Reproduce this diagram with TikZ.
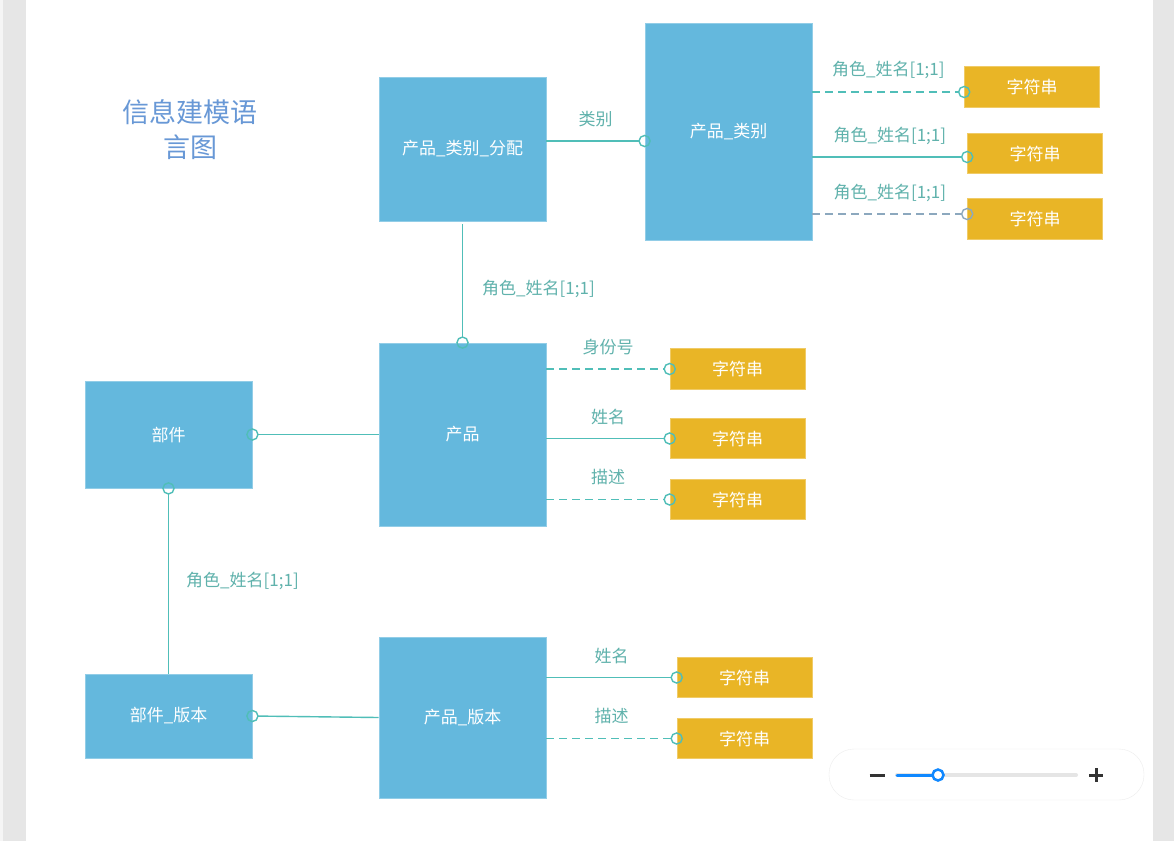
\documentclass[tikz,border=0pt]{standalone}
\usepackage{fontspec}
\setmainfont{Noto Sans CJK SC}
\usepackage{tikz}
\usetikzlibrary{arrows.meta, positioning}

\definecolor{entityblue}{RGB}{100,184,221}
\definecolor{attryellow}{RGB}{233,181,38}
\definecolor{linkteal}{RGB}{80,190,184}
\definecolor{labelteal}{RGB}{96,178,172}
\definecolor{linkgrey}{RGB}{140,168,190}
\definecolor{titleblue}{RGB}{104,152,214}
\definecolor{pagegrey}{RGB}{230,230,230}
\definecolor{sliderblue}{RGB}{16,136,255}

\begin{document}
\begin{tikzpicture}[
    x=1pt, y=-1pt,
    entity/.style={rectangle, fill=entityblue, draw=entityblue!70!white, line width=0.8pt, minimum width=167pt, inner sep=0pt, text=white, font=\fontsize{17}{20}\selectfont},
    attr/.style={rectangle, fill=attryellow, draw=attryellow!70!white, line width=0.6pt, minimum width=135pt, minimum height=40.5pt, inner sep=0pt, text=white, font=\fontsize{17}{20}\selectfont},
    link/.style={draw=linkteal, line width=1.4pt, -{Circle[open, length=12.5pt, width=12.5pt]}, shorten >=-6.25pt},
    dashlink/.style={dash pattern=on 8pt off 5pt},
    lbl/.style={text=labelteal, inner sep=0pt, font=\fontsize{17}{20}\selectfont},
    heading/.style={text=titleblue, align=center, inner sep=0pt, font=\fontsize{27}{35}\selectfont}
]
    % Page
    \fill[white] (0,0) rectangle (1174,841);
    \fill[pagegrey] (0,0) rectangle (26,841);
    \fill[black!4] (0,0) rectangle (3,841);
    \fill[pagegrey] (1153,0) rectangle (1174,841);
    \useasboundingbox (0,0) rectangle (1174,841);

    % Title
    \node[heading] (title) at (190,129.5) {信息建模语\\言图};

    % Entities
    \node[entity, minimum height=144pt] (pcassign) at (462.5,149) {产品\_类别\_分配};
    \node[entity, minimum height=217pt] (pcat) at (728.5,131.5) {产品\_类别};
    \node[entity, minimum height=183pt] (product) at (462.5,434.5) {产品};
    \node[entity, minimum height=107pt] (part) at (168.5,434.5) {部件};
    \node[entity, minimum height=84pt] (partver) at (168.5,716) {部件\_版本};
    \node[entity, minimum height=161pt] (prodver) at (462.5,717.5) {产品\_版本};

    % Value types
    \node[attr] (s1) at (1032,87) {字符串};
    \node[attr] (s2) at (1035,153.5) {字符串};
    \node[attr] (s3) at (1035,219) {字符串};
    \node[attr] (a1) at (737.5,369) {字符串};
    \node[attr] (a2) at (737.5,438.5) {字符串};
    \node[attr] (a3) at (737.5,499.5) {字符串};
    \node[attr] (v1) at (744.5,677.5) {字符串};
    \node[attr] (v2) at (744.5,738.5) {字符串};

    % Connector ends
    \coordinate (catin) at ([yshift=-9.5pt]pcat.west);
    \coordinate (s1in) at ([yshift=-5pt]s1.west);
    \coordinate (s2in) at ([yshift=-3.5pt]s2.west);
    \coordinate (s3in) at ([yshift=5pt]s3.west);

    % Connectors
    \draw[link] (pcassign.east |- catin) -- (catin) node[lbl, midway, yshift=22pt] {类别};
    \draw[link, dashlink] (pcat.east |- s1in) -- (s1in) node[lbl, midway, yshift=22pt] {角色\_姓名[1;1]};
    \draw[link] (pcat.east |- s2in) -- (s2in) node[lbl, midway, yshift=21pt] {角色\_姓名[1;1]};
    \draw[link, dashlink, draw=linkgrey] (pcat.east |- s3in) -- (s3in) node[lbl, midway, yshift=21pt] {角色\_姓名[1;1]};
    \draw[link, shorten <=3pt] (pcassign.south) -- (product.north) node[lbl, midway, anchor=west, xshift=19pt, yshift=-7pt] {角色\_姓名[1;1]};
    \draw[link, dashlink] (product.east |- a1.west) -- (a1.west) node[lbl, midway, yshift=22pt] {身份号};
    \draw[link] (product.east |- a2.west) -- (a2.west) node[lbl, midway, yshift=22pt] {姓名};
    \draw[link, dashlink] (product.east |- a3.west) -- (a3.west) node[lbl, midway, yshift=22pt] {描述};
    \draw[link] (product.west) -- (part.east);
    \draw[link] (partver.north) -- (part.south) node[lbl, midway, anchor=west, xshift=17pt] {角色\_姓名[1;1]};
    \draw[link] (prodver.west) -- (partver.east);
    \draw[link] (prodver.east |- v1.west) -- (v1.west) node[lbl, midway, yshift=22pt] {姓名};
    \draw[link, dashlink] (prodver.east |- v2.west) -- (v2.west) node[lbl, midway, yshift=22pt] {描述};

    % Zoom control
    \draw[draw=black!7, fill=white, rounded corners=25pt] (829,749) rectangle (1144,800);
    \draw[line width=3pt, black!80] (869.5,775) -- (884.5,775);
    \draw[line width=4pt, black!10, line cap=round] (897,775) -- (1076,775);
    \draw[line width=3pt, sliderblue, line cap=round] (897,775) -- (938,775);
    \draw[line width=2.5pt, sliderblue, fill=white] (938,775) circle[radius=5.5pt];
    \draw[line width=3pt, black!80] (1089,775) -- (1103,775) (1096,768) -- (1096,782);
\end{tikzpicture}
\end{document}
